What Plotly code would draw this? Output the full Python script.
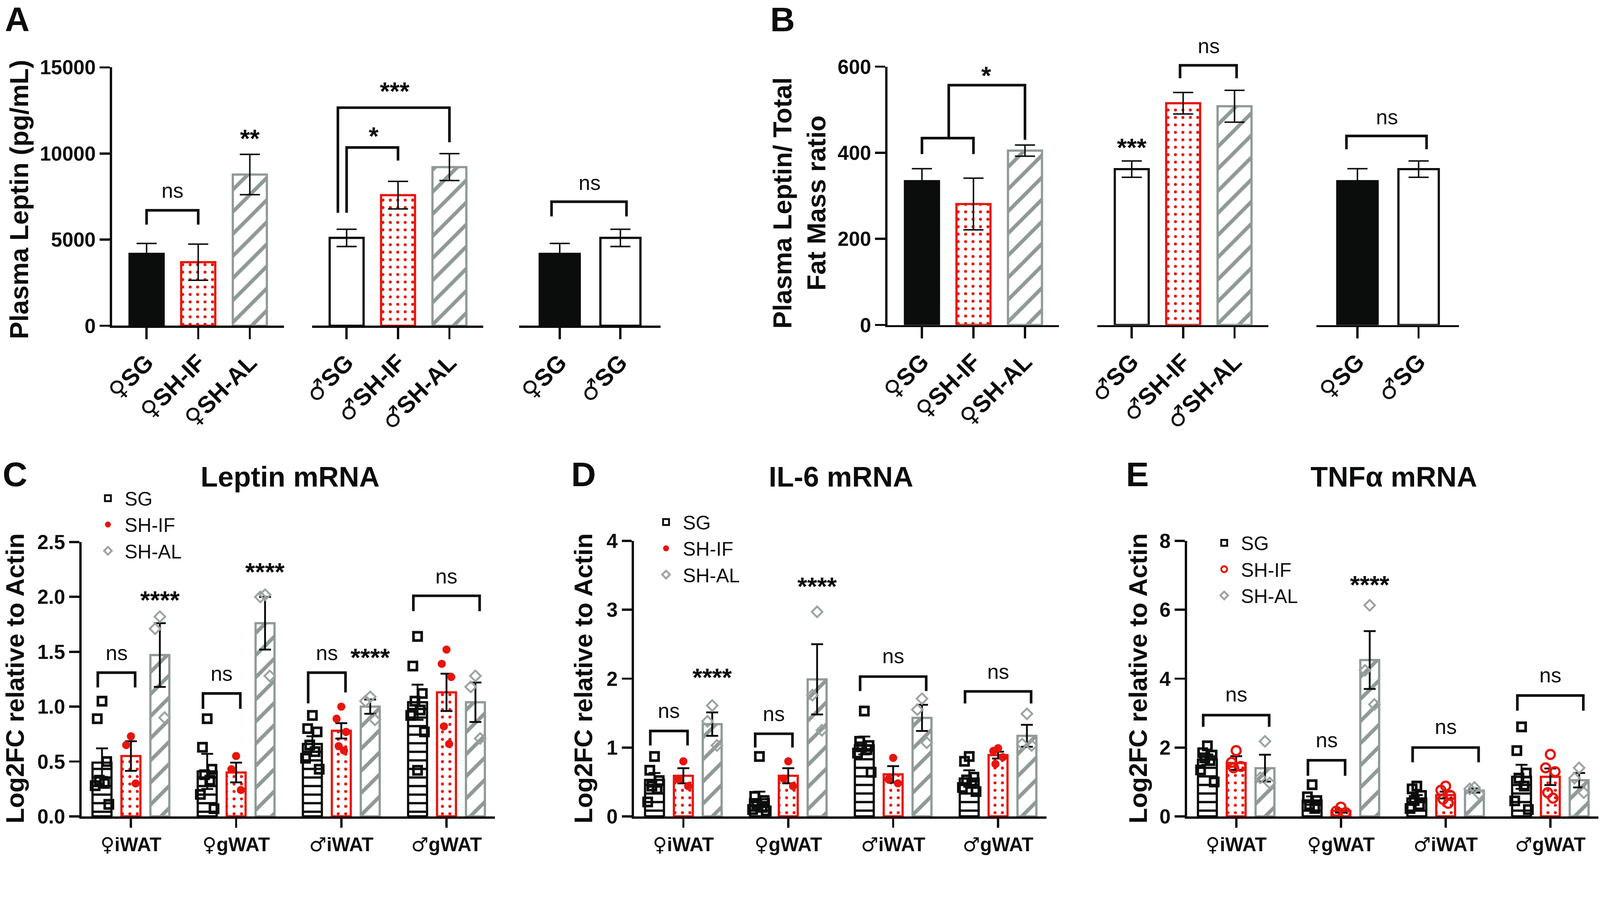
import plotly.graph_objects as go

W, H = 4300, 2308
FONT = 'Liberation Sans, Arial, sans-serif'
SYM_FONT = 'DejaVu Sans'
BLACK = '#0b0d0c'
RED = '#e8140c'
GRAY = '#8f9a97'
DIAMOND = '#9ba3a1'

## 1. Data

# A - plasma leptin (pg/mL), mean and SEM
a_fem_labels = ['♀SG', '♀SH-IF', '♀SH-AL']
a_fem_mean = [4170, 3690, 8780]
a_fem_sem = [610, 1050, 1170]
a_male_labels = ['♂SG', '♂SH-IF', '♂SH-AL']
a_male_mean = [5100, 7580, 9210]
a_male_sem = [500, 800, 780]
a_sg_labels = ['♀SG', '♂SG']
a_sg_mean = [4170, 5100]
a_sg_sem = [610, 500]

# B - plasma leptin / total fat mass ratio
b_fem_mean = [334, 281, 405]
b_fem_sem = [29, 60, 13]
b_male_mean = [362, 515, 508]
b_male_sem = [19, 25, 37]
b_sg_mean = [334, 362]
b_sg_sem = [29, 19]

# C/D/E - mRNA, Log2FC relative to actin
tissues = ['♀iWAT', '♀gWAT', '♂iWAT', '♂gWAT']
groups = ['SG', 'SH-IF', 'SH-AL']

leptin_mean = {'SG': [0.49, 0.41, 0.66, 1.04],
               'SH-IF': [0.55, 0.40, 0.78, 1.13],
               'SH-AL': [1.47, 1.76, 1.00, 1.04]}
leptin_sem = {'SG': [0.13, 0.16, 0.07, 0.16],
              'SH-IF': [0.135, 0.09, 0.07, 0.17],
              'SH-AL': [0.29, 0.24, 0.065, 0.18]}
leptin_points = {
    'SG': [[1.05, 0.89, 0.50, 0.33, 0.30, 0.28, 0.11],
           [0.89, 0.63, 0.43, 0.38, 0.33, 0.20, 0.07],
           [0.92, 0.80, 0.77, 0.65, 0.59, 0.53, 0.43],
           [1.64, 1.37, 1.12, 1.05, 0.97, 0.92, 0.77, 0.42]],
    'SH-IF': [[0.73, 0.65, 0.30], [0.55, 0.43, 0.24],
              [1.00, 0.89, 0.77, 0.64, 0.60], [1.52, 1.39, 1.27, 0.82, 0.66]],
    'SH-AL': [[1.82, 1.71, 0.90], [2.02, 2.00, 1.28],
              [1.09, 1.05, 0.88], [1.28, 1.18, 0.71]]}

il6_mean = {'SG': [0.53, 0.25, 1.03, 0.55],
            'SH-IF': [0.59, 0.59, 0.61, 0.89],
            'SH-AL': [1.34, 1.99, 1.43, 1.17]}
il6_sem = {'SG': [0.10, 0.11, 0.13, 0.12],
           'SH-IF': [0.11, 0.11, 0.12, 0.05],
           'SH-AL': [0.17, 0.51, 0.19, 0.16]}
il6_points = {
    'SG': [[0.87, 0.67, 0.52, 0.44, 0.40, 0.21],
           [0.87, 0.29, 0.23, 0.17, 0.13, 0.10, 0.08],
           [1.53, 1.09, 1.03, 1.01, 0.97, 0.92, 0.64],
           [0.87, 0.80, 0.57, 0.53, 0.48, 0.42, 0.36]],
    'SH-IF': [[0.80, 0.54, 0.44], [0.80, 0.55, 0.44],
              [0.85, 0.54, 0.48], [0.99, 0.95, 0.86, 0.76]],
    'SH-AL': [[1.61, 1.38, 1.03], [2.97, 1.76, 1.25],
              [1.71, 1.55, 1.07], [1.49, 1.05, 1.03]]}

tnf_mean = {'SG': [1.65, 0.46, 0.52, 1.15],
            'SH-IF': [1.55, 0.16, 0.62, 1.15],
            'SH-AL': [1.40, 4.54, 0.75, 1.05]}
tnf_sem = {'SG': [0.15, 0.12, 0.10, 0.35],
           'SH-IF': [0.20, 0.05, 0.10, 0.24],
           'SH-AL': [0.39, 0.84, 0.06, 0.21]}
tnf_points = {
    'SG': [[2.05, 1.85, 1.78, 1.70, 1.62, 1.35, 1.00],
           [0.92, 0.57, 0.46, 0.34, 0.23],
           [0.88, 0.80, 0.61, 0.46, 0.34, 0.23],
           [2.60, 1.91, 1.26, 1.11, 0.88, 0.45, 0.20]],
    'SH-IF': [[1.91, 1.57, 1.45, 1.41], [0.27, 0.15, 0.11],
              [0.88, 0.76, 0.61, 0.50, 0.38], [1.80, 1.41, 1.30, 0.69, 0.53]],
    'SH-AL': [[2.18, 1.12, 0.97], [6.13, 4.24, 3.25],
              [0.84, 0.80, 0.65], [1.41, 1.11, 0.69]]}

# significance brackets: (axis, x_left, x_right, top, left leg end, right leg end)
ab_brackets = [('A1', 0, 1, 6700, 5870, 5870),
               ('A2', 0, 1, 10350, 6560, 9590),
               ('A2', -0.17, 2, 12660, 6560, 10650),
               ('A3', -0.135, 1.1, 7200, 6350, 6350),
               ('B1', 0, 1, 434, 397, 397),
               ('B1', 0.52, 2, 557, 434, 430),
               ('B2', 0.94, 2.04, 603, 573, 573),
               ('B3', -0.18, 1.13, 439, 408, 408)]
ab_labels = [('A1', 0.5, 7850, 'ns'), ('A1', 2, 10880, '**'),
             ('A2', 0.53, 11030, '*'), ('A2', 0.94, 13610, '***'),
             ('A3', 0.49, 8300, 'ns'),
             ('B1', 1.25, 579, '*'), ('B2', 0, 412, '***'),
             ('B2', 1.5, 648, 'ns'), ('B3', 0.48, 483, 'ns')]
# mRNA brackets: (panel, tissue index, left group, right group, top, left leg end, right leg end)
mrna_brackets = [('C', 0, 0, 1, 1.31, 1.175, 1.175), ('C', 1, 0, 1, 1.12, 0.98, 0.98),
                 ('C', 2, 0, 1, 1.31, 1.03, 1.13), ('C', 3, 0, 2, 2.01, 1.87, 1.87),
                 ('D', 0, 0, 1, 1.24, 1.03, 1.03), ('D', 1, 0, 1, 1.20, 1.00, 1.00),
                 ('D', 2, 0, 2, 2.03, 1.82, 1.82), ('D', 3, 0, 2, 1.815, 1.64, 1.64),
                 ('E', 0, 0, 2, 2.94, 2.60, 2.60), ('E', 1, 0, 1, 1.63, 1.18, 1.18),
                 ('E', 2, 0, 2, 2.00, 1.57, 1.57), ('E', 3, 0, 2, 3.51, 3.07, 3.07)]
# (panel, tissue index, group position, y, text)
mrna_labels = [('C', 0, 0.5, 1.49, 'ns'), ('C', 0, 2, 1.97, '****'),
               ('C', 1, 0.5, 1.30, 'ns'), ('C', 1, 2, 2.23, '****'),
               ('C', 2, 0.5, 1.49, 'ns'), ('C', 2, 2, 1.45, '****'),
               ('C', 3, 1, 2.19, 'ns'),
               ('D', 0, 0.5, 1.53, 'ns'), ('D', 0, 2, 2.02, '****'),
               ('D', 1, 0.5, 1.49, 'ns'), ('D', 1, 2, 3.34, '****'),
               ('D', 2, 1, 2.33, 'ns'), ('D', 3, 1, 2.10, 'ns'),
               ('E', 0, 1, 3.55, 'ns'), ('E', 1, 0.5, 2.22, 'ns'), ('E', 1, 2, 6.72, '****'),
               ('E', 2, 1, 2.6, 'ns'), ('E', 3, 1, 4.10, 'ns')]

## 2. Layout helpers (pixel positions of each plot area)

def xdom(a, b):
    return [a / W, b / W]

def ydom(top, bottom):
    return [1 - bottom / H, 1 - top / H]

AX = {  # name: (axis suffix, x pixels, y pixels)
    'A1': ('', (301, 763), (181, 875)),
    'A2': ('2', (839, 1299), (181, 875)),
    'A3': ('3', (1395, 1775), (181, 875)),
    'B1': ('4', (2385, 2846), (179, 873)),
    'B2': ('5', (2949, 3409), (179, 873)),
    'B3': ('6', (3538, 3921), (179, 873)),
    'C': ('7', (219, 1330), (1456, 2193)),
    'D': ('8', (1704, 2812), (1453, 2193)),
    'E': ('9', (3190, 4296), (1453, 2193)),
}
HIDDEN_Y = ('A2', 'A3', 'B2', 'B3')
EXT = 1.25  # hidden y axes get extra head room (same scale) so labels above the top stay visible


def refs(name):
    s = AX[name][0]
    return 'x' + s, 'y' + s


def sym_label(text):
    # sex symbols from a font that has them at full size
    return ''.join('<span style="font-family:%s">%s</span>' % (SYM_FONT, c) if c in '♀♂' else c
                   for c in text)


STYLE = {  # fill colour, outline / pattern colour, pattern
    'sgf': dict(fill=BLACK, line=BLACK, shape='', size=10, sol=0.3),
    'sgm': dict(fill='white', line=BLACK, shape='', size=10, sol=0.3),
    'if': dict(fill='white', line=RED, shape='.', size=20, sol=0.13),
    'al': dict(fill='white', line=GRAY, shape='/', size=42, sol=0.24),
    'sgh': dict(fill='white', line=BLACK, shape='-', size=23, sol=0.27),
}


def bar_marker(st_list, line_width):
    # 'replace' mode: pattern drawn in marker colour on a white background
    return dict(color=[s['line'] if s['shape'] else s['fill'] for s in st_list],
                line=dict(color=[s['line'] for s in st_list], width=line_width),
                pattern=dict(shape=[s['shape'] for s in st_list],
                             bgcolor='white',
                             size=[s['size'] for s in st_list],
                             solidity=[s['sol'] for s in st_list],
                             fillmode='replace'))


fig = go.Figure()


def add_column_group(name, labels, means, sems, styles):
    xr, yr = refs(name)
    fig.add_trace(go.Bar(
        x=list(range(len(labels))), y=means, width=0.66,
        xaxis=xr, yaxis=yr, showlegend=False, hoverinfo='skip',
        marker=bar_marker([STYLE[k] for k in styles], 6),
        error_y=dict(type='data', array=sems, color=BLACK, thickness=4, width=27)))


add_column_group('A1', a_fem_labels, a_fem_mean, a_fem_sem, ['sgf', 'if', 'al'])
add_column_group('A2', a_male_labels, a_male_mean, a_male_sem, ['sgm', 'if', 'al'])
add_column_group('A3', a_sg_labels, a_sg_mean, a_sg_sem, ['sgf', 'sgm'])
add_column_group('B1', a_fem_labels, b_fem_mean, b_fem_sem, ['sgf', 'if', 'al'])
add_column_group('B2', a_male_labels, b_male_mean, b_male_sem, ['sgm', 'if', 'al'])
add_column_group('B3', a_sg_labels, b_sg_mean, b_sg_sem, ['sgf', 'sgm'])

OFF = {'SG': -0.275, 'SH-IF': 0.0, 'SH-AL': 0.275}
SPREAD = [0, -0.045, 0.045, -0.025, 0.025, -0.065, 0.065, 0.0]
MRNA_BAR = {'SG': 'sgh', 'SH-IF': 'if', 'SH-AL': 'al'}


def marker_for(group, panel):
    if group == 'SG':
        return dict(symbol='square-open', size=22, color=BLACK, line=dict(width=7, color=BLACK))
    if group == 'SH-IF':
        if panel == 'E':
            return dict(symbol='circle-open', size=24, color=RED, line=dict(width=6, color=RED))
        return dict(symbol='circle', size=22, color=RED, line=dict(width=0))
    return dict(symbol='diamond-open', size=22, color=DIAMOND, line=dict(width=5, color=DIAMOND))


def add_mrna_panel(panel, means, sems, points, legend_name):
    xr, yr = refs(panel)
    for g in groups:
        n = len(tissues)
        fig.add_trace(go.Bar(
            x=[i + OFF[g] for i in range(n)], y=means[g], width=0.18,
            xaxis=xr, yaxis=yr, showlegend=False, hoverinfo='skip',
            marker=bar_marker([STYLE[MRNA_BAR[g]]] * n, 6),
            error_y=dict(type='data', array=sems[g], color=BLACK, thickness=5, width=16)))
    for g in groups:
        xs, ys = [], []
        for i, vals in enumerate(points[g]):
            for k, v in enumerate(vals):
                xs.append(i + OFF[g] + SPREAD[k % len(SPREAD)])
                ys.append(v)
        fig.add_trace(go.Scatter(
            x=xs, y=ys, mode='markers', name=g, marker=marker_for(g, panel),
            xaxis=xr, yaxis=yr, legend=legend_name, cliponaxis=False, hoverinfo='skip'))


add_mrna_panel('C', leptin_mean, leptin_sem, leptin_points, 'legend')
add_mrna_panel('D', il6_mean, il6_sem, il6_points, 'legend2')
add_mrna_panel('E', tnf_mean, tnf_sem, tnf_points, 'legend3')

## 3. Significance brackets and labels

bracket_lines = {}
for name, x0, x1, top, l0, l1 in ab_brackets:
    bracket_lines.setdefault(name, ([], []))
    bx, by = bracket_lines[name]
    bx += [x0, x0, x1, x1, None]
    by += [l0, top, top, l1, None]
for panel, t, s0, s1, top, l0, l1 in mrna_brackets:
    bracket_lines.setdefault(panel, ([], []))
    bx, by = bracket_lines[panel]
    x0 = t + OFF[groups[s0]] - 0.04
    x1 = t + OFF[groups[s1]] + 0.04
    bx += [x0, x0, x1, x1, None]
    by += [l0, top, top, l1, None]
for name, (bx, by) in bracket_lines.items():
    xr, yr = refs(name)
    fig.add_trace(go.Scatter(x=bx, y=by, mode='lines', xaxis=xr, yaxis=yr,
                             line=dict(color=BLACK, width=7), cliponaxis=False,
                             showlegend=False, hoverinfo='skip'))

annotations = []


def sig_text(name, x, y, text):
    xr, yr = refs(name)
    bold = text != 'ns'
    annotations.append(dict(x=x, y=y, xref=xr, yref=yr, text=text, showarrow=False,
                            yanchor='middle',
                            font=dict(family=FONT, size=68 if bold else 56, color=BLACK,
                                      weight='bold' if bold else 'normal')))


for name, x, y, text in ab_labels:
    sig_text(name, x, y, text)
for panel, t, pos, y, text in mrna_labels:
    sig_text(panel, t + (pos - 1) * 0.275, y, text)


def paper_text(x, y, text, size, angle=0):
    annotations.append(dict(x=x / W, y=1 - y / H, xref='paper', yref='paper', text=text,
                            showarrow=False, textangle=angle, xanchor='center', yanchor='middle',
                            font=dict(family=FONT, size=size, color=BLACK, weight='bold')))


for letter, x, y in [('A', 46, 51), ('B', 2103, 52), ('C', 40, 1274), ('D', 1568, 1274), ('E', 3056, 1274)]:
    paper_text(x, y, letter, 92)
paper_text(779, 1280, 'Leptin mRNA', 76)
paper_text(2260, 1280, 'IL-6 mRNA', 76)
paper_text(3746, 1280, 'TNFα mRNA', 76)
paper_text(52, 536, 'Plasma Leptin (pg/mL)', 70, -90)
paper_text(2148, 545, 'Plasma Leptin/ Total<br>Fat Mass ratio', 70, -90)
paper_text(40, 1822, 'Log2FC relative to Actin', 68, -90)
paper_text(1568, 1822, 'Log2FC relative to Actin', 68, -90)
paper_text(3058, 1822, 'Log2FC relative to Actin', 68, -90)

## 4. Axes

base = dict(showline=True, linecolor=BLACK, linewidth=6, ticks='outside', tickcolor=BLACK,
            tickwidth=6, showgrid=False, zeroline=False, fixedrange=True, automargin=False)
layout_axes = {}
col_groups = {'A1': a_fem_labels, 'A2': a_male_labels, 'A3': a_sg_labels,
              'B1': a_fem_labels, 'B2': a_male_labels, 'B3': a_sg_labels}
y_ticks = {'A': [0, 5000, 10000, 15000], 'B': [0, 200, 400, 600],
           'C': [0, 0.5, 1.0, 1.5, 2.0, 2.5], 'D': [0, 1, 2, 3, 4], 'E': [0, 2, 4, 6, 8]}

for name, (s, xp, yp) in AX.items():
    key = name[0]
    columns = key in 'AB'
    labels = col_groups[name] if columns else tissues
    pad_l, pad_r = (0.67, 0.66) if columns else (0.47, 0.46)
    xa = dict(base, domain=xdom(*xp), anchor='y' + s, range=[-pad_l, len(labels) - 1 + pad_r],
              tickvals=list(range(len(labels))), ticktext=[sym_label(t) for t in labels],
              tickangle=-45 if columns else 0, ticklen=30 if columns else 25,
              tickfont=dict(family=FONT, size=64 if columns else 52, color=BLACK, weight='bold'))
    ticks = y_ticks[key]
    if name in HIDDEN_Y:
        top, bottom = yp
        top = bottom - (bottom - top) * EXT
        ya = dict(visible=False, domain=ydom(top, bottom), anchor='x' + s,
                  range=[0, ticks[-1] * EXT], fixedrange=True)
    else:
        ya = dict(base, domain=ydom(*yp), anchor='x' + s, range=[0, ticks[-1]], tickvals=ticks,
                  ticklen=27, tickformat='.1f' if key == 'C' else 'd',
                  tickfont=dict(family=FONT, size=54, color=BLACK, weight='bold'))
    layout_axes['xaxis' + s] = xa
    layout_axes['yaxis' + s] = ya

legend_style = dict(xanchor='left', yanchor='top', bgcolor='rgba(0,0,0,0)', itemwidth=80,
                    tracegroupgap=0, font=dict(family=FONT, size=52, color=BLACK))

fig.update_layout(
    **layout_axes,
    width=W, height=H,
    margin=dict(l=0, r=0, t=0, b=0),
    paper_bgcolor='white', plot_bgcolor='white',
    barmode='overlay',
    font=dict(family=FONT, color=BLACK),
    annotations=annotations,
    legend=dict(legend_style, x=245 / W, y=1 - 1298 / H),
    legend2=dict(legend_style, x=1745 / W, y=1 - 1362 / H),
    legend3=dict(legend_style, x=3245 / W, y=1 - 1418 / H),
)

# fit the fixed-size figure into the browser viewport
fit_js = ("document.body.style.margin='0';document.body.style.overflow='hidden';"
          "var gd=document.getElementById('{plot_id}');"
          "var s=Math.min(window.innerWidth/" + str(W) + ",window.innerHeight/" + str(H) + ");"
          "if(s<1){gd.style.transformOrigin='0 0';gd.style.transform='scale('+s+')';}")
fig.write_html("out.html", post_script=fit_js, config={'displayModeBar': False})
